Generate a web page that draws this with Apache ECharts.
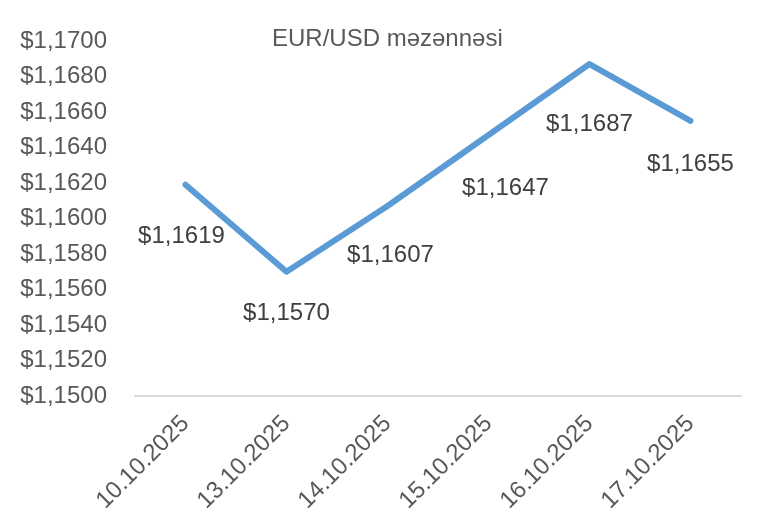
<!DOCTYPE html>
<html>
<head>
<meta charset="utf-8">
<script src="https://cdn.jsdelivr.net/npm/echarts@6/dist/echarts.min.js"></script>
<style>
html,body{margin:0;padding:0;background:#fff;}
#chart{width:782px;height:532px;}
</style>
</head>
<body>
<div id="chart"></div>
<script>
const categories = ['10.10.2025','13.10.2025','14.10.2025','15.10.2025','16.10.2025','17.10.2025'];
const rates = [1.1619, 1.1570, 1.1607, 1.1647, 1.1687, 1.1655];
const yMin = 1.15, yMax = 1.17, yStep = 0.002;
const titleText = 'EUR/USD məzənnəsi';

// label placement (style only)
const labelOffsets = [[-4,52],[0,42],[3,49],[17,53],[0,60],[0,43]];

const fmt = v => '$' + v.toFixed(4).replace('.', ',');
const FONT = 'Liberation Sans, Arial, sans-serif';

const chart = echarts.init(document.getElementById('chart'));
chart.setOption({
  animation: false,
  backgroundColor: '#ffffff',
  title: {
    text: titleText,
    left: 267, top: 22,
    textStyle: {fontFamily: FONT, fontSize: 24, fontWeight: 'normal', color: '#595959'}
  },
  grid: {left: 135, right: 41, top: 41, bottom: 136, containLabel: false},
  xAxis: {
    type: 'category',
    data: categories,
    boundaryGap: true,
    axisLine: {show: true, lineStyle: {color: '#d9d9d9', width: 2}},
    axisTick: {show: false},
    axisLabel: {rotate: 45, margin: 24, fontFamily: FONT, fontSize: 24, color: '#595959', interval: 0}
  },
  yAxis: {
    type: 'value',
    min: yMin, max: yMax, interval: yStep,
    axisLine: {show: false},
    axisTick: {show: false},
    splitLine: {show: false},
    axisLabel: {margin: 28, fontFamily: FONT, fontSize: 24, color: '#595959', formatter: fmt}
  },
  series: [{
    type: 'line',
    data: rates.map((v, i) => ({
      value: v,
      label: {offset: labelOffsets[i]}
    })),
    symbol: 'circle',
    symbolSize: 1,
    showSymbol: true,
    itemStyle: {color: 'rgba(0,0,0,0)'},
    lineStyle: {color: '#5B9BD5', width: 6, cap: 'round', join: 'round'},
    label: {
      show: true,
      position: 'inside',
      fontFamily: FONT, fontSize: 24, color: '#404040',
      formatter: p => fmt(p.value)
    }
  }]
});
</script>
</body>
</html>
